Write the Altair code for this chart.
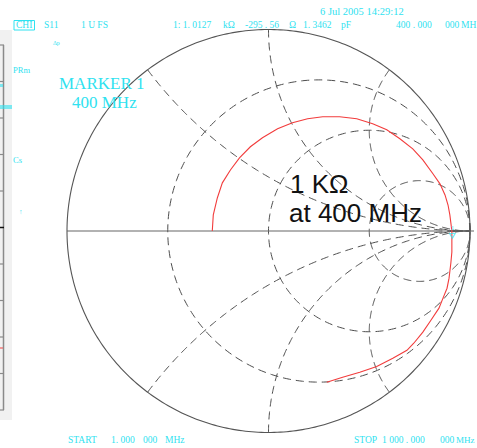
import numpy as np
import pandas as pd
import altair as alt

# ---------------------------------------------------------------
# Smith chart graticule values (normalised to Z0)
R_CIRCLES = [1 / 3, 1.0, 3.0]
X_ARCS = [0.5, 1.0, 2.0]
Z0 = 50.0

# S11 trace, 1 MHz -> 1 GHz, reflection coefficient (real, imag)
TRACE_RE = [-0.279, -0.274, -0.254, -0.229, -0.189, -0.144, -0.090, -0.030,
            0.045, 0.119, 0.194, 0.269, 0.353, 0.438, 0.517, 0.587, 0.652,
            0.716, 0.766, 0.816, 0.851, 0.876, 0.891, 0.900, 0.905, 0.910,
            0.910, 0.910, 0.905, 0.896, 0.886, 0.866, 0.846, 0.806, 0.766,
            0.721, 0.687, 0.617, 0.537, 0.453, 0.368, 0.289]
TRACE_IM = [0.000, 0.080, 0.164, 0.239, 0.303, 0.363, 0.418, 0.463, 0.507,
            0.537, 0.557, 0.567, 0.567, 0.557, 0.532, 0.502, 0.458, 0.408,
            0.353, 0.284, 0.234, 0.179, 0.129, 0.080, 0.040, 0.000, -0.045,
            -0.104, -0.159, -0.234, -0.284, -0.333, -0.383, -0.443, -0.502,
            -0.557, -0.592, -0.632, -0.672, -0.701, -0.726, -0.751]

# Marker 1 readout at 400 MHz: R + jX in ohms
MARKER_R = 1012.7
MARKER_X = -295.56

# Ruler on the left edge (tick rows, pixels)
RULER_TICKS = [81.5, 118, 154.5, 191, 264, 300.5, 337, 373.5]
RULER_ZERO = 227.5

# Header / footer annotations: text, left x, baseline y, font size
CYAN_LABELS = [
    ("CHI", 16, 28, 9.5), ("S11", 44, 28, 9.5), ("1 U FS", 81, 28, 9.5),
    ("1: 1. 0127", 173, 28, 9.5), ("kΩ", 223, 28, 9.5),
    ("-295 . 56", 245, 28, 9.5), ("Ω", 289, 28, 9.5),
    ("1. 3462", 303, 28, 9.5), ("pF", 341, 28, 9.5),
    ("400 . 000", 396, 28, 9.5), ("000", 445, 28, 9.5), ("MH", 461, 28, 9.5),
    ("6 Jul 2005  14:29:12", 320, 15, 10.5),
    ("MARKER 1", 59, 89, 17), ("400 MHz", 72, 108, 17),
    ("PRm", 13, 73, 8.5), ("Cs", 13, 163, 8.5), ("↑", 19, 214, 7),
    ("Δp", 53, 45, 6),
    ("START", 68, 443, 9.5), ("1. 000", 111, 443, 9.5),
    ("000", 143, 443, 9.5), ("MHz", 165, 443, 9.5),
    ("STOP", 354, 443, 9.5), ("1  000 . 000", 382, 443, 9.5),
    ("000", 440, 443, 9.5), ("MHz", 456, 443, 9),
]
BLACK_LABELS = [("1 KΩ", 290, 193, 26), ("at 400 MHz", 289, 222, 26)]

CYAN = "#2fe2f0"
GRID = "#4d4d4d"

# ---------------------------------------------------------------
# plot geometry: unit circle centre and radius inside the 477x448 view
W, H = 477, 448
CX, CY, RAD = 268.5, 231.0, 201.5
XDOM = [-CX / RAD, (W - CX) / RAD]
YDOM = [-(H - CY) / RAD, CY / RAD]

gx = alt.Scale(domain=XDOM, nice=False, zero=False)
gy = alt.Scale(domain=YDOM, nice=False, zero=False)
px = alt.Scale(domain=[0, W], range=[0, W], nice=False, zero=False)
py = alt.Scale(domain=[0, H], range=[0, H], nice=False, zero=False)


def arc(cx, cy, r, t0, t1, n=240):
    t = np.linspace(t0, t1, n)
    return cx + r * np.cos(t), cy + r * np.sin(t)


rows = []
for k, r in enumerate(R_CIRCLES):
    xs, ys = arc(r / (1 + r), 0.0, 1 / (1 + r), 0, 2 * np.pi, 360)
    rows += [dict(curve=f"r{k}", i=i, re=a, im=b) for i, (a, b) in enumerate(zip(xs, ys))]
for k, x in enumerate(X_ARCS):
    ex, ey = (x * x - 1) / (x * x + 1), 2 * x / (x * x + 1)
    t0 = np.arctan2(ey - 1 / x, ex - 1) % (2 * np.pi)
    xs, ys = arc(1.0, 1 / x, 1 / x, t0, 1.5 * np.pi)
    for sgn, tag in ((1, "p"), (-1, "n")):
        rows += [dict(curve=f"x{tag}{k}", i=i, re=a, im=sgn * b)
                 for i, (a, b) in enumerate(zip(xs, ys))]
grid_df = pd.DataFrame(rows)

ox, oy = arc(0.0, 0.0, 1.0, 0, 2 * np.pi, 400)
outer_df = pd.DataFrame({"i": range(len(ox)), "re": ox, "im": oy})

trace_df = pd.DataFrame({"i": range(len(TRACE_RE)), "re": TRACE_RE, "im": TRACE_IM})

z = complex(MARKER_R, MARKER_X) / Z0
g = (z - 1) / (z + 1)
marker_df = pd.DataFrame({"re": [g.real], "im": [g.imag]})

axis_df = pd.DataFrame({"a": [-1.0], "b": [1.02], "im": [0.0]})

enc_g = dict(x=alt.X("re:Q", scale=gx, axis=None), y=alt.Y("im:Q", scale=gy, axis=None))

outer = alt.Chart(outer_df).mark_line(color="#555555", strokeWidth=1.1).encode(
    order="i:Q", **enc_g)
grid = alt.Chart(grid_df).mark_line(color=GRID, strokeWidth=1, strokeDash=[8, 5]).encode(
    detail="curve:N", order="i:Q", **enc_g)
real_axis = alt.Chart(axis_df).mark_rule(color="#666666", strokeWidth=1.1).encode(
    x=alt.X("a:Q", scale=gx, axis=None), x2="b:Q",
    y=alt.Y("im:Q", scale=gy, axis=None))
trace = alt.Chart(trace_df).mark_line(color="#f23c3c", strokeWidth=1.1).encode(
    order="i:Q", **enc_g)
marker = alt.Chart(marker_df).mark_point(
    shape="triangle-down", color=CYAN, filled=False, size=30, strokeWidth=1.2
).encode(**enc_g)
marker_tag = alt.Chart(marker_df).mark_text(
    text="1", color=CYAN, fontSize=7, dy=-8, font="Liberation Serif"
).encode(**enc_g)

# left-edge ruler
band = alt.Chart(pd.DataFrame({"a": [0]})).mark_rect(color="#f1f1f1").encode(
    x=alt.value(0), x2=alt.value(12), y=alt.value(30), y2=alt.value(420))
ruler_df = pd.DataFrame({"y": [45] + RULER_TICKS + [410]})
ruler_ticks = alt.Chart(ruler_df).mark_rule(color="#8a8a8a", strokeWidth=1.2).encode(
    x=alt.value(0), x2=alt.value(4),
    y=alt.Y("y:Q", scale=py, axis=None))
ruler_spine = alt.Chart(pd.DataFrame({"a": [0]})).mark_rule(
    color="#8a8a8a", strokeWidth=1.5).encode(
    x=alt.value(3.5), y=alt.value(45), y2=alt.value(410))
ruler_zero = alt.Chart(pd.DataFrame({"a": [0]})).mark_rule(
    color="#111111", strokeWidth=1.5).encode(
    x=alt.value(0), x2=alt.value(4), y=alt.value(RULER_ZERO))
ruler_red = alt.Chart(pd.DataFrame({"a": [0]})).mark_rule(
    color="#f06060", strokeWidth=1.2).encode(
    x=alt.value(0), x2=alt.value(3), y=alt.value(348))
ruler_cyan = alt.Chart(pd.DataFrame({"a": [0]})).mark_rect(color=CYAN, opacity=0.6).encode(
    x=alt.value(0), x2=alt.value(12), y=alt.value(105), y2=alt.value(109))
ruler_cyan2 = alt.Chart(pd.DataFrame({"a": [0]})).mark_rect(color=CYAN, opacity=0.6).encode(
    x=alt.value(0), x2=alt.value(3), y=alt.value(84), y2=alt.value(87))

chi_box = alt.Chart(pd.DataFrame({"a": [0]})).mark_rect(
    fillOpacity=0, stroke=CYAN, strokeWidth=1).encode(
    x=alt.value(14), x2=alt.value(34.5), y=alt.value(20.5), y2=alt.value(30))

cyan_df = pd.DataFrame(CYAN_LABELS, columns=["t", "x", "y", "fs"])
cyan_text = alt.Chart(cyan_df).mark_text(
    align="left", baseline="alphabetic", color=CYAN, font="Liberation Serif"
).encode(
    x=alt.X("x:Q", scale=px, axis=None), y=alt.Y("y:Q", scale=py, axis=None),
    text="t:N", size=alt.Size("fs:Q", scale=None, legend=None))

black_df = pd.DataFrame(BLACK_LABELS, columns=["t", "x", "y", "fs"])
black_text = alt.Chart(black_df).mark_text(
    align="left", baseline="alphabetic", color="#111111", font="Liberation Sans"
).encode(
    x=alt.X("x:Q", scale=px, axis=None), y=alt.Y("y:Q", scale=py, axis=None),
    text="t:N", size=alt.Size("fs:Q", scale=None, legend=None))

chart = alt.layer(
    band, ruler_spine, ruler_ticks, ruler_zero, ruler_red, ruler_cyan, ruler_cyan2,
    grid, outer, real_axis, trace, marker, marker_tag,
    chi_box, cyan_text, black_text,
).resolve_scale(
    x="independent", y="independent"
).properties(
    width=W, height=H, padding=0, background="white",
    autosize=alt.AutoSizeParams(type="none"),
).configure_view(stroke=None)

chart.save("out.html", embed_options={"renderer": "svg", "actions": False})
